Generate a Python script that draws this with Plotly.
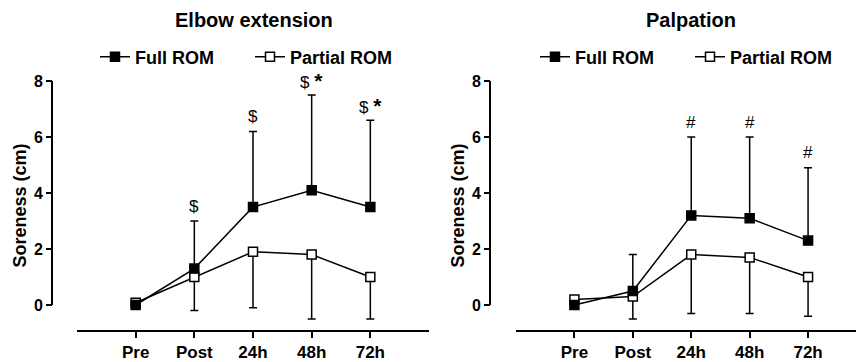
import plotly.graph_objects as go

categories = ["Pre", "Post", "24h", "48h", "72h"]
y_ticks = [0, 2, 4, 6, 8]
series_names = ["Full ROM", "Partial ROM"]
panel_titles = ["Elbow extension", "Palpation"]
y_title = "Soreness (cm)"

STAR = "<span style='font-size:21px'><b>*</b></span>"
elbow_full = [0.0, 1.3, 3.5, 4.1, 3.5]
elbow_full_err = [0.0, 1.7, 2.7, 3.4, 3.1]
elbow_partial = [0.08, 1.0, 1.9, 1.8, 1.0]
elbow_partial_err = [0.0, 1.2, 2.0, 2.3, 1.5]
elbow_marks = ["", "$", "$", "$ " + STAR, "$ " + STAR]

palp_full = [0.0, 0.5, 3.2, 3.1, 2.3]
palp_full_err = [0.0, 1.3, 2.8, 2.9, 2.6]
palp_partial = [0.2, 0.3, 1.8, 1.7, 1.0]
palp_partial_err = [0.0, 0.8, 2.1, 2.0, 1.4]
palp_marks = ["", "", "#", "#", "#"]

W, H = 856, 362
FONT = "Liberation Sans, Arial, sans-serif"
BLACK = "#000000"

panels = [
    dict(full=elbow_full, full_err=elbow_full_err, part=elbow_partial, part_err=elbow_partial_err,
         marks=elbow_marks, xa="x", ya="y", legend="legend"),
    dict(full=palp_full, full_err=palp_full_err, part=palp_partial, part_err=palp_partial_err,
         marks=palp_marks, xa="x2", ya="y2", legend="legend2"),
]

fig = go.Figure()
zeros = [0] * len(categories)
for p in panels:
    # Partial ROM drawn first so Full ROM sits on top
    fig.add_trace(go.Scatter(
        x=categories, y=p["part"], name=series_names[1], mode="lines+markers",
        xaxis=p["xa"], yaxis=p["ya"], legend=p["legend"], legendrank=2,
        line=dict(color=BLACK, width=1.5),
        marker=dict(symbol="square", size=9, color="white", line=dict(color=BLACK, width=1.5)),
        error_y=dict(type="data", symmetric=False, array=zeros, arrayminus=p["part_err"],
                     color=BLACK, thickness=1.5, width=4),
    ))
    fig.add_trace(go.Scatter(
        x=categories, y=p["full"], name=series_names[0], mode="lines+markers",
        xaxis=p["xa"], yaxis=p["ya"], legend=p["legend"], legendrank=1,
        line=dict(color=BLACK, width=1.5),
        marker=dict(symbol="square", size=9, color=BLACK, line=dict(color=BLACK, width=1.5)),
        error_y=dict(type="data", symmetric=False, array=p["full_err"], arrayminus=zeros,
                     color=BLACK, thickness=1.5, width=4),
    ))
    # significance marks above the upper error bars
    for c, m, v, e in zip(categories, p["marks"], p["full"], p["full_err"]):
        if m:
            fig.add_annotation(x=c, y=v + e, xref=p["xa"], yref=p["ya"], text=m,
                               showarrow=False, yanchor="middle", yshift=15,
                               font=dict(family=FONT, size=17, color=BLACK))

y_dom = [(H - 330) / H, (H - 81) / H]
y_range = [-25 / 28, 8]

axis_common = dict(showgrid=False, zeroline=False, ticks="outside", tickwidth=2, ticklen=6,
                   tickcolor=BLACK, automargin=False,
                   tickfont=dict(family=FONT, size=17, color=BLACK, weight="bold"))
ytick_font = dict(family=FONT, size=16, color=BLACK, weight="bold")
ytitle = dict(text=y_title, standoff=1, font=dict(family=FONT, size=18, color=BLACK, weight="bold"))
legend_common = dict(orientation="h", xanchor="left", y=(H - 57) / H, yanchor="middle",
                     font=dict(family=FONT, size=18, color=BLACK, weight="bold"),
                     itemwidth=30, entrywidthmode="pixels", bgcolor="rgba(0,0,0,0)")

fig.update_layout(
    template="none",
    width=W, height=H, margin=dict(l=0, r=0, t=0, b=0, pad=0),
    paper_bgcolor="white", plot_bgcolor="white",
    font=dict(family=FONT, color=BLACK),
    xaxis=dict(domain=[77 / W, 429 / W], range=[-1, 5], anchor="y", showline=True, linewidth=2,
               linecolor=BLACK, **axis_common),
    xaxis2=dict(domain=[516 / W, 1.0], range=[-1, 4 + 48 / 58.5], anchor="y2", showline=True,
                linewidth=2, linecolor=BLACK, **axis_common),
    yaxis=dict(domain=y_dom, range=y_range, anchor="free", position=52 / W, tickvals=y_ticks,
               showline=False, title=ytitle, **{**axis_common, "tickfont": ytick_font}),
    yaxis2=dict(domain=y_dom, range=y_range, anchor="free", position=490 / W, tickvals=y_ticks,
                showline=False, title=ytitle, **{**axis_common, "tickfont": ytick_font}),
    legend=dict(x=95 / W, entrywidth=110, **legend_common),
    legend2=dict(x=535 / W, entrywidth=110, **legend_common),
    showlegend=True,
)

# y-axis lines spanning only the tick range (0 to 8)
for xpos, yref in [(52 / W, "y"), (490 / W, "y2")]:
    fig.add_shape(type="line", xref="paper", yref=yref, x0=xpos, x1=xpos,
                  y0=min(y_ticks), y1=max(y_ticks), line=dict(color=BLACK, width=2))

# panel titles
for title, xc in zip(panel_titles, [254 / W, 691 / W]):
    fig.add_annotation(text=title, xref="paper", yref="paper", x=xc, y=(H - 20) / H,
                       showarrow=False, xanchor="center", yanchor="middle",
                       font=dict(family=FONT, size=20, color=BLACK, weight="bold"))

fig.write_html("out.html", config={"displayModeBar": False},
               post_script="document.body.style.margin='0px';")
